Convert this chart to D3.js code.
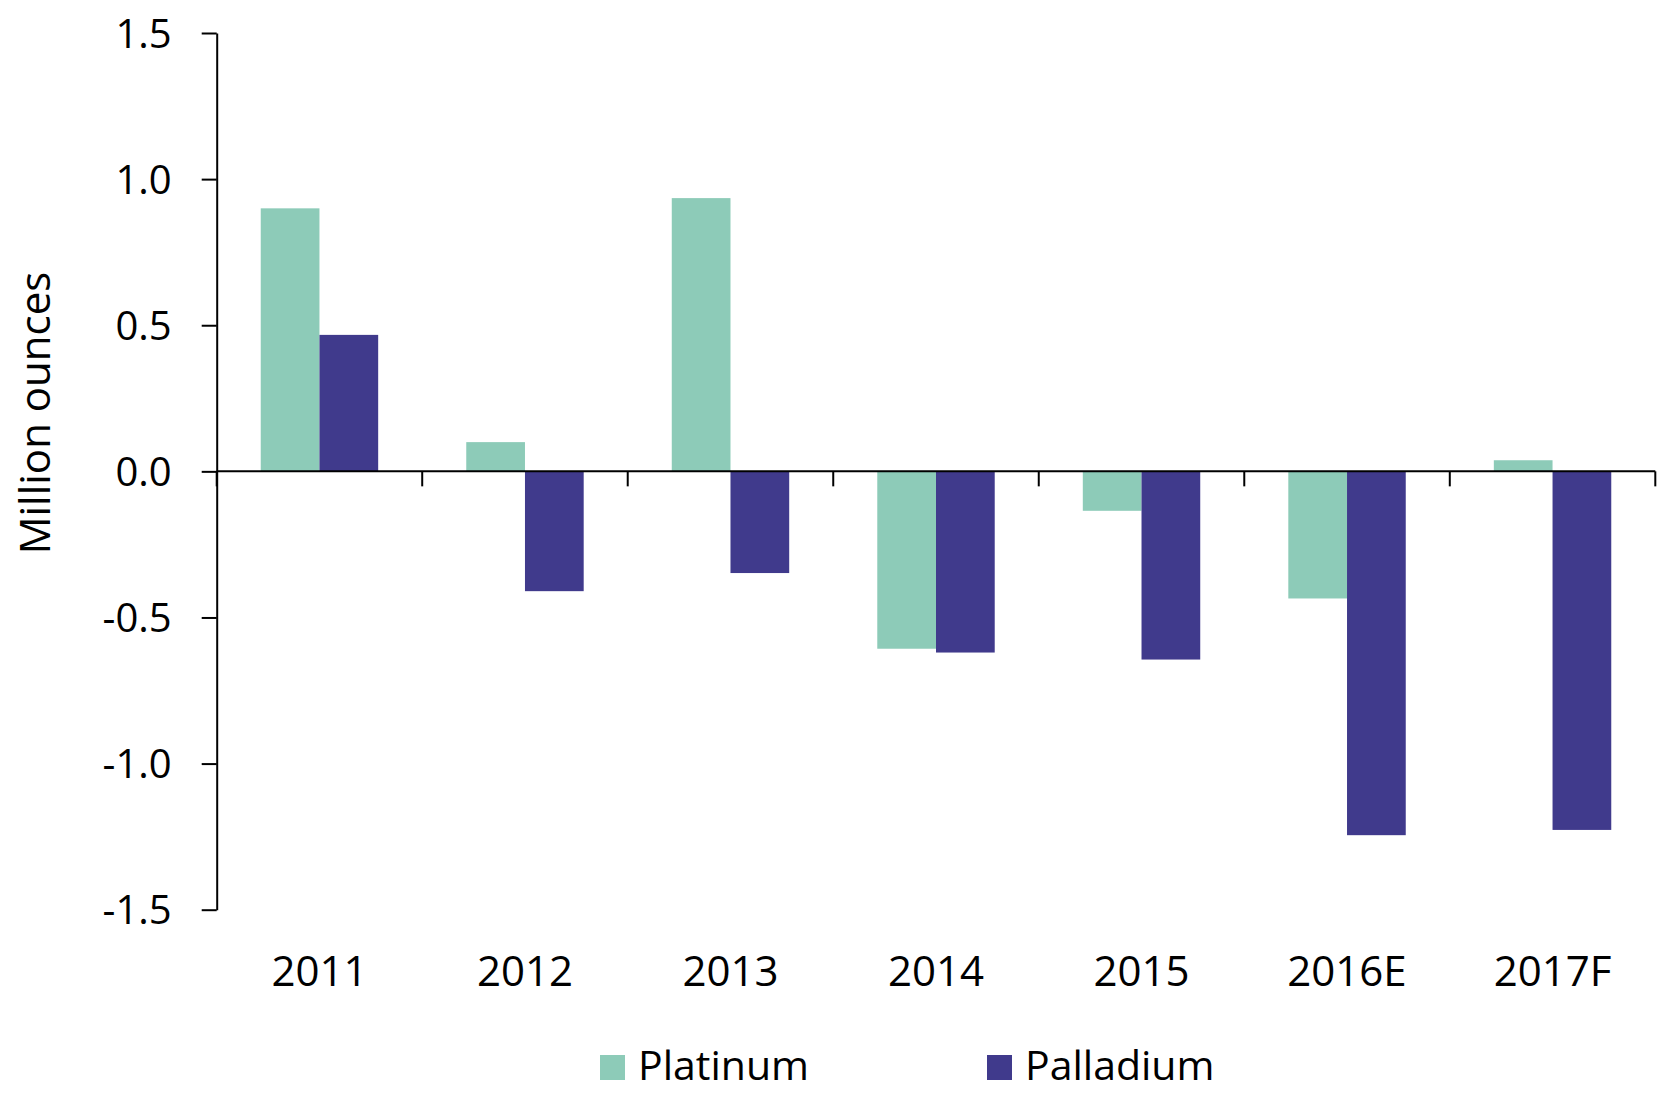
<!DOCTYPE html>
<html lang="en">
<head>
    <meta charset="UTF-8" />
    <title>Platinum and palladium balance</title>
    <script src="https://d3js.org/d3.v7.min.js"></script>
    <style>
        body { margin: 0; background: #fff; }
        text { font-family: "Open Sans", sans-serif; fill: #000; }
    </style>
</head>
<body>
    <script>
        var years = ["2011", "2012", "2013", "2014", "2015", "2016E", "2017F"];
        var seriesNames = ["Platinum", "Palladium"];
        var platinum = [0.90, 0.10, 0.935, -0.607, -0.135, -0.435, 0.038];
        var palladium = [0.467, -0.41, -0.348, -0.62, -0.644, -1.245, -1.227];
        var yTicks = [-1.5, -1.0, -0.5, 0.0, 0.5, 1.0, 1.5];

        var colors = { "Platinum": "#8dcbb8", "Palladium": "#403a8c" };

        var w = 1662;
        var h = 1095;
        // note: "top" is reserved on window, so use plot* names
        var plotLeft = 216.7, plotRight = 1655.3, plotTop = 33, plotBottom = 909.7;

        var rows = years.map(function (y, i) {
            return { year: y, values: [
                { key: "Platinum", value: platinum[i] },
                { key: "Palladium", value: palladium[i] }
            ] };
        });

        var x0 = d3.scaleBand()
            .domain(years)
            .range([plotLeft, plotRight])
            .padding(0);

        var x1 = d3.scaleBand()
            .domain(seriesNames)
            .range([0, x0.bandwidth()])
            .paddingInner(0)
            .paddingOuter(0.75);

        var yScale = d3.scaleLinear()
            .domain([-1.5, 1.5])
            .range([plotBottom, plotTop]);

        var fmt = d3.formatLocale({ decimal: ".", thousands: ",", grouping: [3], currency: ["", ""], minus: "-" }).format(".1f");

        var svg = d3.select("body")
            .append("svg")
            .attr("width", w)
            .attr("height", h);

        // bars
        svg.append("g")
            .selectAll("g")
            .data(rows)
            .enter()
            .append("g")
            .attr("transform", function (d) { return "translate(" + x0(d.year) + ",0)"; })
            .selectAll("rect")
            .data(function (d) { return d.values; })
            .enter()
            .append("rect")
            .attr("x", function (d) { return x1(d.key); })
            .attr("width", x1.bandwidth())
            .attr("y", function (d) { return yScale(Math.max(0, d.value)); })
            .attr("height", function (d) { return Math.abs(yScale(d.value) - yScale(0)); })
            .attr("fill", function (d) { return colors[d.key]; });

        // y axis
        var yAxis = svg.append("g")
            .attr("transform", "translate(" + plotLeft + ",0)")
            .call(d3.axisLeft(yScale).tickValues(yTicks).tickFormat(fmt).tickSize(15).tickSizeOuter(0).tickPadding(30));
        yAxis.select(".domain").attr("stroke", "#000").attr("stroke-width", 2);
        yAxis.selectAll(".tick line").attr("stroke", "#000").attr("stroke-width", 2);
        yAxis.selectAll(".tick text")
            .attr("font-size", "40px")
            .attr("font-family", "Open Sans, sans-serif")
            .attr("fill", "#000")
            .attr("dy", "0.35em");

        // zero line with category boundary ticks
        var zeroY = yScale(0);
        svg.append("line")
            .attr("x1", plotLeft).attr("x2", plotRight)
            .attr("y1", zeroY).attr("y2", zeroY)
            .attr("stroke", "#000").attr("stroke-width", 2);

        var bounds = years.map(function (y) { return x0(y); }).concat([x0(years[years.length - 1]) + x0.bandwidth()]);
        svg.selectAll("line.xtick")
            .data(bounds)
            .enter()
            .append("line")
            .attr("class", "xtick")
            .attr("x1", function (d) { return d; })
            .attr("x2", function (d) { return d; })
            .attr("y1", zeroY)
            .attr("y2", zeroY + 15)
            .attr("stroke", "#000").attr("stroke-width", 2);

        // category labels
        svg.selectAll("text.year")
            .data(years)
            .enter()
            .append("text")
            .attr("class", "year")
            .attr("x", function (d) { return x0(d) + x0.bandwidth() / 2; })
            .attr("y", 986)
            .attr("text-anchor", "middle")
            .attr("font-size", "42px")
            .text(function (d) { return d; });

        // y title
        svg.append("text")
            .attr("transform", "translate(50,413) rotate(-90)")
            .attr("text-anchor", "middle")
            .attr("font-size", "42px")
            .text("Million ounces");

        // legend
        var legendX = [600, 987];
        var legend = svg.selectAll("g.legend")
            .data(seriesNames)
            .enter()
            .append("g")
            .attr("class", "legend")
            .attr("transform", function (d, i) { return "translate(" + legendX[i] + ",1055)"; });
        legend.append("rect")
            .attr("width", 25)
            .attr("height", 25)
            .attr("fill", function (d) { return colors[d]; });
        legend.append("text")
            .attr("x", 38)
            .attr("y", 25)
            .attr("font-size", "41px")
            .text(function (d) { return d; });
    </script>
</body>
</html>
